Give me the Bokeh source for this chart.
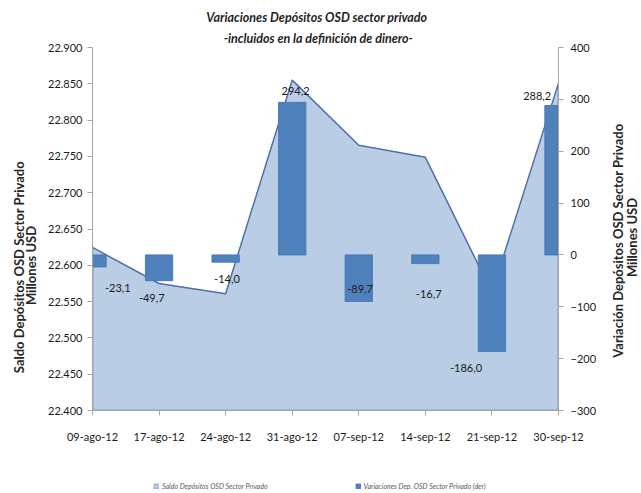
import math
from bokeh.plotting import figure
from bokeh.layouts import gridplot
from bokeh.models import Range1d, LinearAxis, FixedTicker, Legend, LegendItem, ColumnDataSource, Label
from bokeh.embed import file_html
from bokeh.resources import INLINE
from bokeh.core.properties import value

# ---- data ----
categories = ["09-ago-12", "17-ago-12", "24-ago-12", "31-ago-12",
              "07-sep-12", "14-sep-12", "21-sep-12", "30-sep-12"]
saldo = [22624.6, 22574.9, 22560.9, 22855.1, 22765.4, 22748.7, 22562.7, 22850.9]
variacion = [-23.1, -49.7, -14.0, 294.2, -89.7, -16.7, -186.0, 288.2]
left_ticks = [22400, 22450, 22500, 22550, 22600, 22650, 22700, 22750, 22800, 22850, 22900]
right_ticks = [-300, -200, -100, 0, 100, 200, 300, 400]

# data-label placement (offset from category, height on right axis)
label_dx = [0.38, -0.11, 0.02, 0.05, 0.02, 0.05, -0.39, -0.32]
label_y = [-63, -84, -47, 317, -65, -76, -219, 307]

FONT = "Lato"
AREA_FILL, AREA_LINE = "#B9CDE5", "#4F6FA8"
BAR_FILL, BAR_LINE = "#4F81BD", "#4A7AB5"
TXT = "#262626"
idx = list(range(len(categories)))

# ---------------- main chart ----------------
p = figure(width=565, height=470, output_backend="svg", toolbar_location=None,
           x_range=Range1d(0, len(categories) - 1),
           y_range=Range1d(left_ticks[0], left_ticks[-1]),
           min_border_left=52, min_border_right=47, min_border_top=47, min_border_bottom=60)
p.extra_y_ranges = {"der": Range1d(right_ticks[0], right_ticks[-1])}
p.outline_line_color = None
p.xgrid.visible = False
p.ygrid.visible = False

base = left_ticks[0]
area = p.patch(x=idx + [idx[-1], idx[0]], y=saldo + [base, base],
               fill_color=AREA_FILL, line_color=AREA_LINE, line_width=1.5)

src = ColumnDataSource(dict(x=idx, top=variacion))
bars = p.vbar(x="x", top="top", bottom=0, width=0.41, source=src, y_range_name="der",
              fill_color=BAR_FILL, line_color=BAR_LINE)

lab_src = ColumnDataSource(dict(
    x=[i + d for i, d in zip(idx, label_dx)],
    y=label_y,
    t=[f"{v:.1f}".replace(".", ",") for v in variacion]))
p.text(x="x", y="y", text="t", source=lab_src, y_range_name="der",
       text_align="center", text_baseline="middle",
       text_font=value(FONT), text_font_size="11px", text_color="#1a1a1a")


def style_axis(ax):
    ax.axis_line_color = "#A6A6A6"
    ax.major_tick_line_color = "#A6A6A6"
    ax.minor_tick_line_color = None
    ax.major_tick_in = 0
    ax.major_tick_out = 5
    ax.major_label_text_font = FONT
    ax.major_label_text_font_size = "11px"
    ax.major_label_text_color = "#1a1a1a"


def text_axis(label, standoff):
    ax = LinearAxis(ticker=FixedTicker(ticks=[]))
    ax.axis_line_color = None
    ax.major_tick_line_color = None
    ax.minor_tick_line_color = None
    ax.major_tick_in = 0
    ax.major_tick_out = 0
    ax.minor_tick_in = 0
    ax.minor_tick_out = 0
    ax.major_label_standoff = 0
    ax.axis_label = label
    ax.axis_label_standoff = standoff
    ax.axis_label_text_font = FONT
    ax.axis_label_text_font_size = "12.5px"
    ax.axis_label_text_font_style = "bold italic"
    ax.axis_label_text_color = "#1F1F1F"
    return ax


xa = p.xaxis[0]
xa.ticker = FixedTicker(ticks=idx)
xa.major_label_overrides = {i: c for i, c in zip(idx, categories)}
style_axis(xa)
xa.major_label_standoff = 14

ya = p.yaxis[0]
ya.ticker = FixedTicker(ticks=left_ticks)
ya.major_label_overrides = {t: f"{t:,}".replace(",", ".") for t in left_ticks}
style_axis(ya)
ya.major_label_standoff = 5

ra = LinearAxis(y_range_name="der", ticker=FixedTicker(ticks=right_ticks))
style_axis(ra)
ra.major_label_standoff = 7
p.add_layout(ra, "right")

# two-line title above the frame (trailing em/en spaces nudge the centre left)
p.add_layout(text_axis("-incluidos en la definición de dinero-\u2003\u2002", 2), "above")
p.add_layout(text_axis("Variaciones Depósitos OSD sector privado\u2003\u2003", 3), "above")


# ---------------- side strips for the vertical axis titles ----------------
def strip(width, height):
    s = figure(width=width, height=height, output_backend="svg", toolbar_location=None,
               x_axis_type=None, y_axis_type=None, x_range=Range1d(0, 1), y_range=Range1d(0, 1),
               min_border=0)
    s.outline_line_color = None
    s.xgrid.visible = False
    s.ygrid.visible = False
    return s


def vlabel(fig, txt, x, y):
    fig.add_layout(Label(x=x, y=y, x_units="screen", y_units="screen", text=txt,
                         angle=math.pi / 2, text_align="center", text_baseline="middle",
                         text_font=FONT, text_font_size="13px", text_font_style="bold",
                         text_color=TXT))


L = strip(40, 470)
vlabel(L, "Saldo Depósitos OSD  Sector Privado", 18, 145)
vlabel(L, "Millones USD", 30, 145)

R = strip(36, 470)
vlabel(R, "Variación  Depósitos OSD  Sector Privado", 12, 173)
vlabel(R, "Millones USD", 26, 173)

# ---------------- legend strip ----------------
q = figure(width=565, height=23, output_backend="svg", toolbar_location=None,
           x_axis_type=None, y_axis_type=None, x_range=Range1d(0, 1), y_range=Range1d(0, 1),
           min_border=0)
q.outline_line_color = None
q.xgrid.visible = False
q.ygrid.visible = False
# legend keys: same series, hidden in this strip (only their legend swatches show)
ka = q.patch(x=idx + [idx[-1], idx[0]], y=saldo + [base, base],
             fill_color=AREA_FILL, line_color="#95A9C5", line_width=1)
kb = q.vbar(x=idx, top=variacion, width=0.41, fill_color=BAR_FILL, line_color=BAR_LINE)
ka.visible = False
kb.visible = False
lg = Legend(items=[LegendItem(label="Saldo Depósitos OSD Sector Privado", renderers=[ka]),
                   LegendItem(label="Variaciones Dep. OSD Sector Privado (der)", renderers=[kb])],
            location=(61, 3), orientation="horizontal",
            padding=0, margin=0, spacing=87,
            glyph_width=6, glyph_height=6, label_height=8, label_standoff=3,
            label_text_font=FONT, label_text_font_size="7px", label_text_font_style="italic",
            label_text_color="#595959",
            border_line_alpha=0, background_fill_alpha=0)
q.add_layout(lg, "center")

g = gridplot([[L, p, R], [None, q, None]], toolbar_location=None)
open("out.html", "w").write(file_html(g, INLINE))
